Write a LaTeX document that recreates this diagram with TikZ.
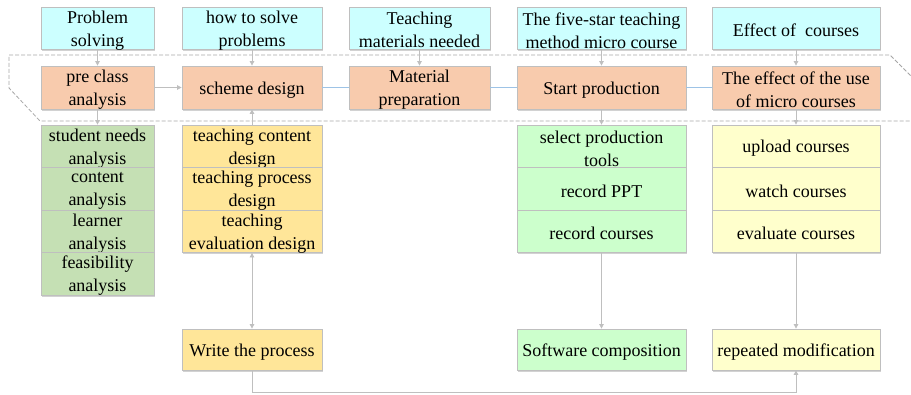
\documentclass[tikz,border=0pt]{standalone}
\usepackage{fontspec}
\setmainfont{Liberation Serif}
\newfontfamily\tnr{Liberation Serif}
\usetikzlibrary{arrows.meta,shadows}
\definecolor{cyanf}{HTML}{CCFFFF}
\definecolor{orangef}{HTML}{F8CBAD}
\definecolor{greenA}{HTML}{C5E0B4}
\definecolor{yellowA}{HTML}{FFE699}
\definecolor{greenB}{HTML}{CCFFCC}
\definecolor{yellowB}{HTML}{FFFFCC}
\definecolor{edgegray}{HTML}{BFBFBF}
\definecolor{dashgray}{HTML}{A6A6A6}
\definecolor{linkblue}{HTML}{9DC3E6}
% name, x, y, width, height, fill, text
\newcommand\boxnode[7]{%
  \node[box={#4}{#5}, fill=#6] (#1) at (#2,#3) {};
  \node[boxtext] (#1-t) at ([yshift=-2.3pt]#1.center) {#7};}
\begin{document}
\begin{tikzpicture}[x=1pt,y=-1pt,
  box/.style 2 args={draw=edgegray, line width=0.8pt, inner sep=0pt,
    minimum width=#1, minimum height=#2,
    drop shadow={shadow xshift=1pt, shadow yshift=-1.5pt, fill=black!35, opacity=0.5}},
  boxtext/.style={align=center, inner sep=0pt, text=black,
    font=\tnr\fontsize{18}{23}\selectfont},
  conn/.style={draw=edgegray, line width=0.8pt, -{Triangle[length=4.5pt,width=4.5pt]}},
  dconn/.style={draw=edgegray, line width=0.8pt, {Triangle[length=4.5pt,width=4.5pt]}-{Triangle[length=4.5pt,width=4.5pt]}},
  blueline/.style={draw=linkblue, line width=0.8pt},
  outline/.style={draw=dashgray, line width=0.8pt, dash pattern=on 4pt off 2pt}]
\useasboundingbox (0,0) rectangle (911,394);
\clip (0,0) rectangle (911,394);
% dashed region
\draw[outline] (9,55) -- (890,55) -- (930,95) -- (930,121) -- (40,121) -- (9,88) -- cycle;
% top row
\boxnode{t1}{97.5}{28}{113}{42}{cyanf}{Problem\\solving}
\boxnode{t2}{252}{28}{140}{42}{cyanf}{how to solve\\problems}
\boxnode{t3}{419.5}{28}{141}{42}{cyanf}{Teaching\\materials needed}
\boxnode{t4}{601.5}{28}{169}{42}{cyanf}{The five-star teaching\\method micro course}
\boxnode{t5}{796}{28}{168}{42}{cyanf}{Effect of~ courses}
% middle row
\boxnode{m1}{97.5}{87.5}{113}{43}{orangef}{pre class\\analysis}
\boxnode{m2}{252}{87.5}{140}{43}{orangef}{scheme design}
\boxnode{m3}{419.5}{87.5}{141}{43}{orangef}{Material\\preparation}
\boxnode{m4}{601.5}{87.5}{169}{43}{orangef}{Start production}
\boxnode{m5}{796}{87.5}{168}{43}{orangef}{The effect of the use\\of micro courses}
% stack 1
\boxnode{s1a}{97.5}{146.25}{113}{42.5}{greenA}{student needs\\analysis}
\boxnode{s1b}{97.5}{188.75}{113}{42.5}{greenA}{content\\analysis}
\boxnode{s1c}{97.5}{231.25}{113}{42.5}{greenA}{learner\\analysis}
\boxnode{s1d}{97.5}{273.75}{113}{42.5}{greenA}{feasibility\\analysis}
% stack 2
\boxnode{s2a}{252}{146.25}{140}{42.5}{yellowA}{teaching content\\design}
\boxnode{s2b}{252}{188.75}{140}{42.5}{yellowA}{teaching process\\design}
\boxnode{s2c}{252}{231.25}{140}{42.5}{yellowA}{teaching\\evaluation design}
% stack 4
\boxnode{s4a}{601.5}{146.25}{169}{42.5}{greenB}{select production\\tools}
\boxnode{s4b}{601.5}{188.75}{169}{42.5}{greenB}{record PPT}
\boxnode{s4c}{601.5}{231.25}{169}{42.5}{greenB}{record courses}
% stack 5
\boxnode{s5a}{796}{146.25}{168}{42.5}{yellowB}{upload courses}
\boxnode{s5b}{796}{188.75}{168}{42.5}{yellowB}{watch courses}
\boxnode{s5c}{796}{231.25}{168}{42.5}{yellowB}{evaluate courses}
% bottom row
\boxnode{w2}{252}{349.5}{140}{41}{yellowA}{Write the process}
\boxnode{w4}{601.5}{349.5}{169}{41}{greenB}{Software composition}
\boxnode{w5}{796}{349.5}{168}{41}{yellowB}{repeated modification}
% connectors
\draw[conn] (t1) -- (m1);
\draw[conn] (t2) -- (m2);
\draw[conn] (t3) -- (m3);
\draw[conn] (t4) -- (m4);
\draw[conn] (t5) -- (m5);
\draw[conn] (m1) -- (m2);
\draw[blueline] (m2) -- (m3);
\draw[blueline] (m3) -- (m4);
\draw[blueline] (m4) -- (m5);
\draw[conn] (m1) -- (s1a);
\draw[conn] (s2a) -- (m2);
\draw[dconn] (s2c) -- (w2);
\draw[conn] (m4) -- (s4a);
\draw[conn] (s4c) -- (w4);
\draw[conn] (m5) -- (s5a);
\draw[conn] (s5c) -- (w5);
\draw[conn] (w2.south) -- ++(0,21.5) -| (w5.south);
\end{tikzpicture}
\end{document}
